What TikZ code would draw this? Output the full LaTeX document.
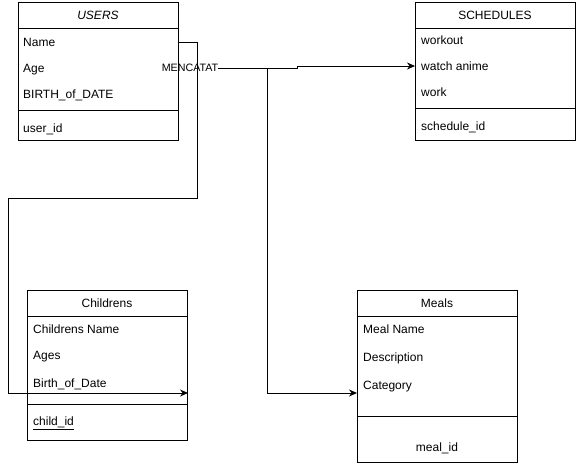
\documentclass[tikz,border=0pt]{standalone}
\usepackage{fontspec}
\setmainfont{Liberation Sans}
\usetikzlibrary{arrows.meta}
\tikzset{
  entity/.style={draw, line width=1pt},
  field/.style={anchor=west, inner sep=0pt, text height=8.6pt, text depth=0pt, font=\fontsize{12}{14}\selectfont},
  heading/.style={inner sep=0pt, text height=8.6pt, text depth=0pt, font=\fontsize{12}{14}\selectfont},
  relname/.style={inner sep=0pt, text height=7.6pt, text depth=0pt, font=\fontsize{10.7}{12}\selectfont},
  link/.style={line width=1pt, -{Stealth[length=8pt,width=7pt]}}
}
\begin{document}
\begin{tikzpicture}[x=1pt,y=-1pt]
\useasboundingbox (0,0) rectangle (576,463);

% USERS
\draw[entity] (18,2) rectangle (178,140);
\draw[entity] (18,28) -- (178,28) (18,110) -- (178,110);
\node[heading] (usersT) at (98,15) {\itshape USERS};
\node[field] (uName) at (23,42) {Name};
\node[field] (uAge) at (23,68) {Age};
\node[field] (uBirth) at (23,94) {BIRTH\_of\_DATE};
\node[field] (uId) at (23,128) {user\_id};

% SCHEDULES
\draw[entity] (415,2) rectangle (575,140);
\draw[entity] (415,28) -- (575,28) (415,108) -- (575,108);
\node[heading] (schedT) at (495,15) {SCHEDULES};
\node[field] (sWork) at (421,40) {workout};
\node[field] (sAnime) at (421,66) {watch anime};
\node[field] (sJob) at (421,92) {work};
\node[field] (sId) at (421,126) {schedule\_id};

% Childrens
\draw[entity] (27,290) rectangle (187,440);
\draw[entity] (27,316) -- (187,316) (27,404) -- (187,404);
\node[heading] (childT) at (107,303) {Childrens};
\node[field] (cName) at (33,329) {Childrens Name};
\node[field] (cAges) at (33,355) {Ages};
\node[field] (cBirth) at (33,383) {Birth\_of\_Date};
\node[field] (cId) at (33,421) {\underline{child\_id}};

% Meals
\draw[entity] (357,290) rectangle (517,462);
\draw[entity] (357,316) -- (517,316) (357,416) -- (517,416);
\node[heading] (mealT) at (437,303) {Meals};
\node[field] (mName) at (363,329) {Meal Name};
\node[field] (mDesc) at (363,357) {Description};
\node[field] (mCat) at (363,385) {Category};
\node[heading] (mId) at (437,447) {meal\_id};

% connector ends
\coordinate (uNameE) at (178,42);
\coordinate (cRowE) at (188,393);
\coordinate (sRowW) at (415,66);
\coordinate (mRowW) at (357,393);
\coordinate (split) at (267,68);

% relation
\node[relname] (mencatat) at (190,68) {MENCATAT};

% links
\draw[link] (uNameE) -- (197,42) -- (197,198) -- (8,198) -- (8,393) -- (cRowE);
\draw[link] (mencatat.east) -- (297,68) -- (297,66) -- (sRowW);
\draw[link] (split) -- (267,393) -- (mRowW);
\end{tikzpicture}
\end{document}
